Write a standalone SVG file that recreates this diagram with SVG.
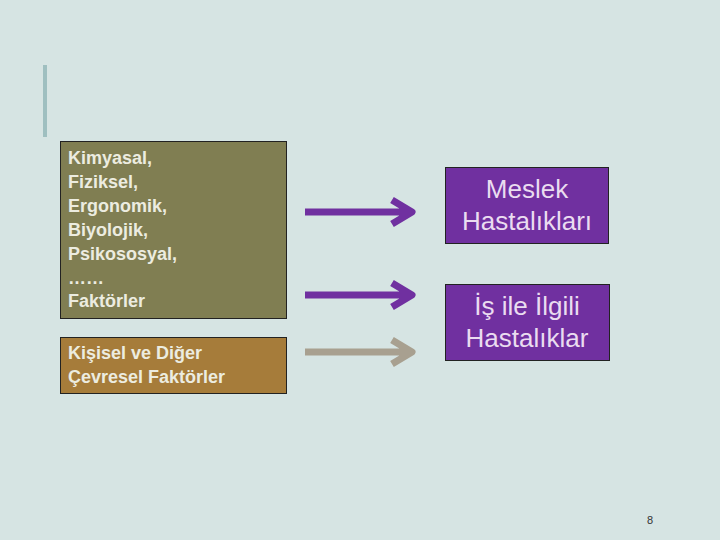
<svg xmlns="http://www.w3.org/2000/svg" width="720" height="540" viewBox="0 0 720 540">
<style>
.l{font-family:"Liberation Sans",Arial,sans-serif;font-weight:bold;font-size:18px;fill:#ecece0}
.r{font-family:"Liberation Sans",Arial,sans-serif;font-size:26px;fill:#eadcf0;text-anchor:middle}
.box{stroke:#222;stroke-width:1}
.a{fill:none;stroke-width:7;stroke-linejoin:round;stroke-linecap:butt}
</style>
<rect width="720" height="540" fill="#d6e4e3"/>
<rect x="43" y="65" width="4" height="72" fill="#9fbfc0"/>
<g id="factors"><rect class="box" x="60.500" y="141.500" width="226" height="177" fill="#807e52"/>
<text class="l"><tspan x="68" y="164">Kimyasal,</tspan><tspan x="68" y="188">Fiziksel,</tspan><tspan x="68" y="212">Ergonomik,</tspan><tspan x="68" y="236">Biyolojik,</tspan><tspan x="68" y="260">Psikososyal,</tspan><tspan x="68" y="284">……</tspan><tspan x="68" y="307">Faktörler</tspan></text></g>
<g id="personal"><rect class="box" x="60.500" y="337.500" width="226" height="56" fill="#a67c3a"/>
<text class="l"><tspan x="68" y="359">Kişisel ve Diğer</tspan><tspan x="68" y="383">Çevresel Faktörler</tspan></text></g>
<g id="meslek"><rect class="box" x="445.500" y="167.500" width="163" height="76" fill="#7030a0"/>
<text class="r"><tspan x="527" y="198">Meslek</tspan><tspan x="527" y="230">Hastalıkları</tspan></text></g>
<g id="is"><rect class="box" x="445.500" y="284.500" width="164" height="76" fill="#7030a0"/>
<text class="r"><tspan x="527" y="315">İş ile İlgili</tspan><tspan x="527" y="347">Hastalıklar</tspan></text></g>
<g id="connectors">
<path class="a" stroke="#7030a0" d="M305 212H412M392 200L412 212L392 224"/>
<path class="a" stroke="#7030a0" d="M305 295H412M392 283L412 295L392 307"/>
<path class="a" stroke="#a8a090" d="M305 352H412M392 340L412 352L392 364"/>
</g>
<text x="650" y="524" font-family="Liberation Sans,Arial,sans-serif" font-size="11" fill="#333" text-anchor="middle">8</text>
</svg>
